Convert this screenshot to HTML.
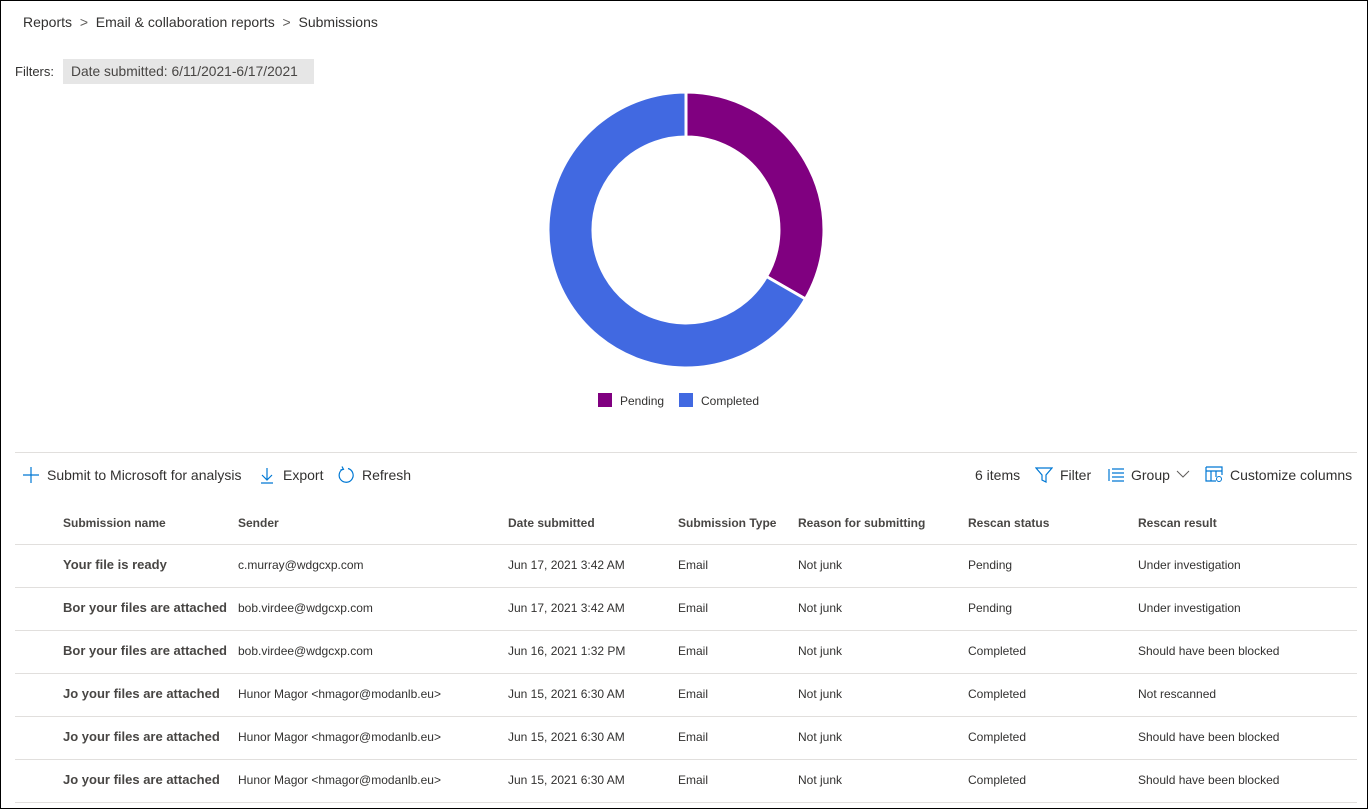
<!DOCTYPE html><html><head><meta charset="utf-8"><style>
*{margin:0;padding:0;box-sizing:border-box}
body{width:1369px;height:810px;background:#fff;font-family:"Liberation Sans",sans-serif;color:#323130;position:relative;overflow:hidden}
.frame{position:absolute;left:0;top:0;width:1368px;height:809px;border:1px solid #000}
.a{position:absolute;white-space:nowrap}
.hl{position:absolute;left:15px;width:1342px;height:1px;background:#e1dfdd}
.h{font-size:12px;font-weight:bold;color:#484644;top:516px}
.c{font-size:12px;color:#323130}
.n{font-size:13px;font-weight:bold;color:#484644}
</style></head><body><div class="frame"></div>
<div class="a" style="left:23px;top:14px;font-size:14px;color:#323130">Reports &nbsp;<span style="color:#605e5c">&gt;</span>&nbsp; Email &amp; collaboration reports &nbsp;<span style="color:#605e5c">&gt;</span>&nbsp; Submissions</div>
<div class="a" style="left:15px;top:64px;font-size:13px">Filters:</div>
<div class="a" style="left:63px;top:59px;width:251px;height:25px;background:#e6e6e6;font-size:13.8px;padding:5px 0 0 8px;color:#484644">Date submitted: 6/11/2021-6/17/2021</div>
<svg class="a" style="left:0;top:0" width="1369" height="450">
<path d="M686 92 A138 138 0 0 1 805.5 299 L766.5 276.5 A93 93 0 0 0 686 137 Z" fill="#800080" stroke="#fff" stroke-width="3"/>
<path d="M805.5 299 A138 138 0 1 1 686 92 L686 137 A93 93 0 1 0 766.5 276.5 Z" fill="#4169e1" stroke="#fff" stroke-width="3"/>
<rect x="598" y="393" width="14" height="14" fill="#800080"/>
<rect x="679" y="393" width="14" height="14" fill="#4169e1"/>
<text x="620" y="405" font-size="12" fill="#323130" font-family="Liberation Sans">Pending</text>
<text x="701" y="405" font-size="12" fill="#323130" font-family="Liberation Sans">Completed</text>
</svg>
<div class="hl" style="top:452px"></div>
<svg class="a" style="left:22px;top:466px" width="18" height="18"><path d="M9 1V17M1 9H17" stroke="#0078d4" stroke-width="1.2"/></svg>
<div class="a" style="left:47px;top:467px;font-size:14px">Submit to Microsoft for analysis</div>
<svg class="a" style="left:259px;top:466px" width="16" height="18"><path d="M8 2V14M3 9L8 14L13 9M2 17H14" stroke="#0078d4" stroke-width="1.2" fill="none"/></svg>
<div class="a" style="left:283px;top:467px;font-size:14px">Export</div>
<svg class="a" style="left:337px;top:465px" width="18" height="20"><path d="M11 3.5A7 7 0 1 1 6 4" stroke="#0078d4" stroke-width="1.2" fill="none"/><path d="M5 1.5L6.5 4.3L3.5 5" stroke="#0078d4" stroke-width="1.2" fill="none"/></svg>
<div class="a" style="left:362px;top:467px;font-size:14px">Refresh</div>
<div class="a" style="left:975px;top:467px;font-size:14px">6 items</div>
<svg class="a" style="left:1035px;top:466px" width="18" height="18"><path d="M1 2H17L11 9V16L7 14V9Z" stroke="#0078d4" stroke-width="1.2" fill="none"/></svg>
<div class="a" style="left:1060px;top:467px;font-size:14px">Filter</div>
<svg class="a" style="left:1107px;top:466px" width="18" height="18"><path d="M5 3H17M5 7H17M5 11H17M5 15H17M2 3V15" stroke="#0078d4" stroke-width="1.2" fill="none"/></svg>
<div class="a" style="left:1131px;top:467px;font-size:14px">Group</div>
<svg class="a" style="left:1176px;top:469px" width="14" height="10"><path d="M1 2L7 8L13 2" stroke="#605e5c" stroke-width="1" fill="none"/></svg>
<svg class="a" style="left:1205px;top:465px" width="18" height="18"><path d="M1 2H17V10M1 2V16H11M1 6H17M6 6V16M11 6V12" stroke="#0078d4" stroke-width="1.2" fill="none"/><circle cx="14" cy="14" r="2.5" stroke="#0078d4" fill="none"/></svg>
<div class="a" style="left:1230px;top:467px;font-size:14px">Customize columns</div>
<div class="a h" style="left:63px">Submission name</div>
<div class="a h" style="left:238px">Sender</div>
<div class="a h" style="left:508px">Date submitted</div>
<div class="a h" style="left:678px">Submission Type</div>
<div class="a h" style="left:798px">Reason for submitting</div>
<div class="a h" style="left:968px">Rescan status</div>
<div class="a h" style="left:1138px">Rescan result</div>
<div class="hl" style="top:544px"></div><div class="hl" style="top:587px"></div><div class="hl" style="top:630px"></div><div class="hl" style="top:673px"></div><div class="hl" style="top:716px"></div><div class="hl" style="top:759px"></div><div class="hl" style="top:802px"></div>
<div id="rows"></div>
<script>
var d=[["Your file is ready","c.murray@wdgcxp.com","Jun 17, 2021 3:42 AM","Pending","Under investigation"],
["Bor your files are attached","bob.virdee@wdgcxp.com","Jun 17, 2021 3:42 AM","Pending","Under investigation"],
["Bor your files are attached","bob.virdee@wdgcxp.com","Jun 16, 2021 1:32 PM","Completed","Should have been blocked"],
["Jo your files are attached","Hunor Magor &lt;hmagor@modanlb.eu&gt;","Jun 15, 2021 6:30 AM","Completed","Not rescanned"],
["Jo your files are attached","Hunor Magor &lt;hmagor@modanlb.eu&gt;","Jun 15, 2021 6:30 AM","Completed","Should have been blocked"],
["Jo your files are attached","Hunor Magor &lt;hmagor@modanlb.eu&gt;","Jun 15, 2021 6:30 AM","Completed","Should have been blocked"]];
var h="";d.forEach(function(r,i){var t=557+43*i;
h+='<div class="a n" style="left:63px;top:'+t+'px">'+r[0]+'</div>';
var cols=[[238,r[1]],[508,r[2]],[678,"Email"],[798,"Not junk"],[968,r[3]],[1138,r[4]]];
cols.forEach(function(c){h+='<div class="a c" style="left:'+c[0]+'px;top:'+(t+1)+'px">'+c[1]+'</div>';});});
document.getElementById("rows").innerHTML=h;
</script>
</body></html>
